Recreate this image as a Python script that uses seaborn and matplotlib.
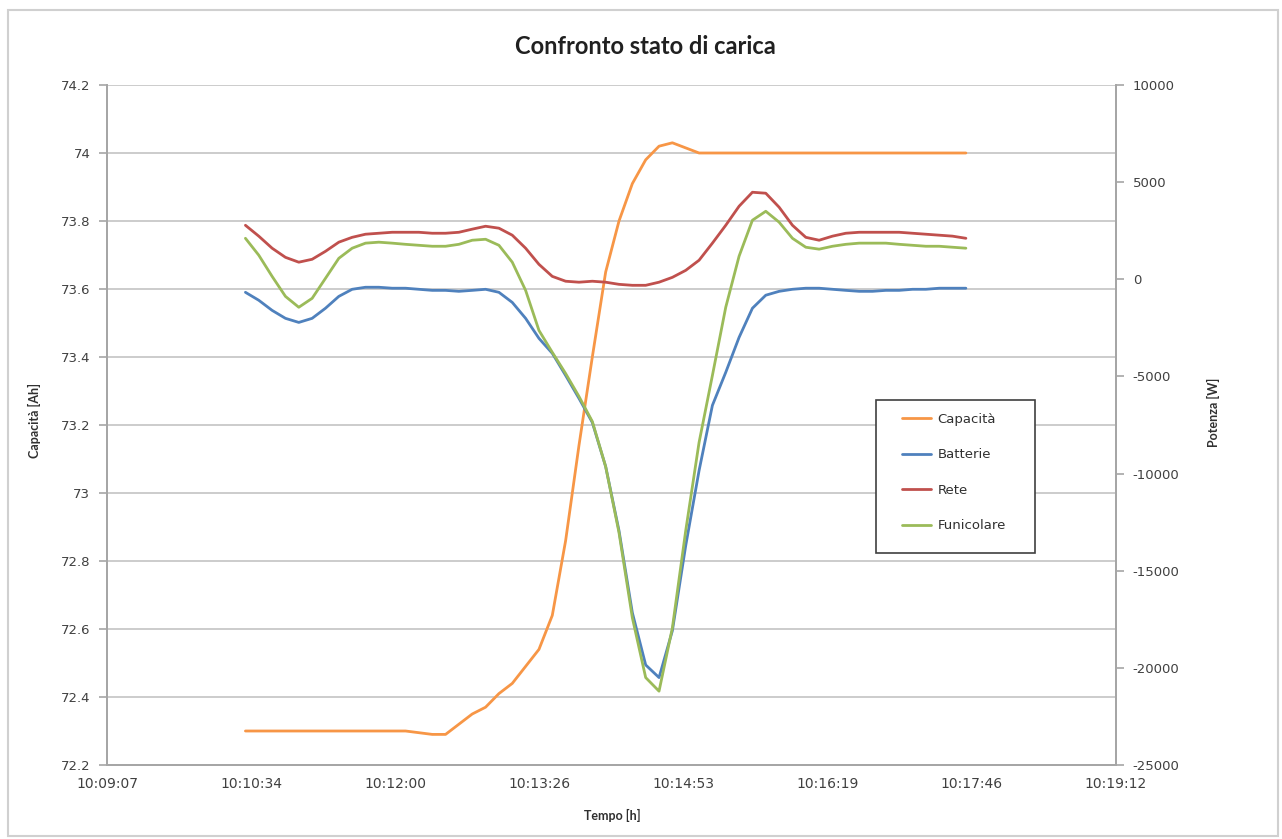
import numpy as np
import pandas as pd
import matplotlib.pyplot as plt
import matplotlib.dates as mdates
from matplotlib.lines import Line2D
from matplotlib.patches import Rectangle
import seaborn as sns

# dati (campioni ogni 8 s)
tempo = ['10:10:30', '10:10:38', '10:10:46', '10:10:54', '10:11:02', '10:11:10', '10:11:18',
         '10:11:26', '10:11:34', '10:11:42', '10:11:50', '10:11:58', '10:12:06', '10:12:14',
         '10:12:22', '10:12:30', '10:12:38', '10:12:46', '10:12:54', '10:13:02', '10:13:10',
         '10:13:18', '10:13:26', '10:13:34', '10:13:42', '10:13:50', '10:13:58', '10:14:06',
         '10:14:14', '10:14:22', '10:14:30', '10:14:38', '10:14:46', '10:14:54', '10:15:02',
         '10:15:10', '10:15:18', '10:15:26', '10:15:34', '10:15:42', '10:15:50', '10:15:58',
         '10:16:06', '10:16:14', '10:16:22', '10:16:30', '10:16:38', '10:16:46', '10:16:54',
         '10:17:02', '10:17:10', '10:17:18', '10:17:26', '10:17:34', '10:17:42']
capacita = [72.30, 72.30, 72.30, 72.30, 72.30, 72.30, 72.30, 72.30, 72.30, 72.30, 72.30,
            72.30, 72.30, 72.295, 72.29, 72.29, 72.32, 72.35, 72.37, 72.41, 72.44, 72.49,
            72.54, 72.64, 72.86, 73.14, 73.40, 73.65, 73.80, 73.91, 73.98, 74.02, 74.03,
            74.015, 74.00, 74.00, 74.00, 74.00, 74.00, 74.00, 74.00, 74.00, 74.00, 74.00,
            74.00, 74.00, 74.00, 74.00, 74.00, 74.00, 74.00, 74.00, 74.00, 74.00, 74.00]
batterie = [-670, -1080, -1600, -2010, -2220, -2010, -1490, -880, -515, -410, -410, -460,
            -460, -515, -570, -570, -620, -570, -515, -670, -1190, -2010, -3040, -3810,
            -4950, -6130, -7370, -9640, -12940, -17160, -19850, -20500, -18090, -13710,
            -9850, -6490, -4790, -2990, -1490, -820, -620, -515, -460, -460, -515, -570,
            -620, -620, -570, -570, -515, -515, -460, -460, -460]
rete = [2780, 2220, 1600, 1130, 880, 1030, 1440, 1910, 2160, 2320, 2370, 2420, 2420, 2420,
        2370, 2370, 2420, 2580, 2730, 2630, 2270, 1600, 770, 150, -100, -150, -100, -150,
        -260, -310, -310, -150, 100, 460, 980, 1860, 2780, 3760, 4480, 4430, 3710, 2780,
        2160, 2010, 2220, 2370, 2420, 2420, 2420, 2420, 2370, 2320, 2270, 2220, 2110]
funicolare = [2110, 1240, 150, -880, -1440, -980, 50, 1080, 1600, 1860, 1910, 1860, 1800,
              1750, 1700, 1700, 1800, 2010, 2060, 1750, 880, -570, -2630, -3760, -4850,
              -6030, -7320, -9640, -13040, -17420, -20500, -21200, -17940, -12940, -8400,
              -4950, -1440, 1190, 3040, 3500, 2940, 2110, 1650, 1550, 1700, 1800, 1860,
              1860, 1860, 1800, 1750, 1700, 1700, 1650, 1600]

tick_labels = ['10:09:07', '10:10:34', '10:12:00', '10:13:26', '10:14:53', '10:16:19',
               '10:17:46', '10:19:12']
cap_ticks = [72.2, 72.4, 72.6, 72.8, 73.0, 73.2, 73.4, 73.6, 73.8, 74.0, 74.2]
pot_ticks = [-25000, -20000, -15000, -10000, -5000, 0, 5000, 10000]

colori = {'Capacità': '#F79646', 'Batterie': '#4F81BD', 'Rete': '#C0504D', 'Funicolare': '#9BBB59'}

sns.set_style('white')
plt.rcParams['font.family'] = ['DejaVu Sans']

t = pd.to_datetime(['2000-01-01 ' + s for s in tempo])
df_cap = pd.DataFrame({'Tempo': t, 'Capacità': capacita})
df_pot = pd.DataFrame({'Tempo': t, 'Batterie': batterie, 'Rete': rete, 'Funicolare': funicolare})
df_pot = df_pot.melt(id_vars='Tempo', var_name='Serie', value_name='Potenza')

W, H = 1282, 839
fig = plt.figure(figsize=(W / 100, H / 100), dpi=100)
fig.patches.append(Rectangle((8 / W, 3 / H), 1270 / W, 826 / H, transform=fig.transFigure,
                             fill=False, edgecolor='#D0D0D0', lw=1.5))
ax = fig.add_axes([107 / W, 1 - 765 / H, 1009 / W, 680 / H])
ax2 = ax.twinx()

sns.lineplot(data=df_cap, x='Tempo', y='Capacità', color=colori['Capacità'], lw=2.0, ax=ax, legend=False)
sns.lineplot(data=df_pot, x='Tempo', y='Potenza', hue='Serie', palette=colori, lw=2.0, ax=ax2, legend=False)

x0 = mdates.date2num(pd.Timestamp('2000-01-01 10:09:07'))
x1 = mdates.date2num(pd.Timestamp('2000-01-01 10:19:12'))
ax.set_xlim(x0, x1)
ax.set_xticks(np.linspace(x0, x1, len(tick_labels)))
ax.set_xticklabels(tick_labels)

ax.set_ylim(72.2, 74.2)
ax.set_yticks(cap_ticks)
ax.set_yticklabels([f'{v:g}' for v in cap_ticks])
ax2.set_ylim(-25000, 10000)
ax2.set_yticks(pot_ticks)
ax2.set_yticklabels([str(v) for v in pot_ticks])

ax.yaxis.grid(True, color='#C8C8C8', lw=1.3)
ax.set_axisbelow(True)
for a in (ax, ax2):
    a.set_xlabel('')
    a.set_ylabel('')
    for s in ['left', 'right', 'bottom']:
        a.spines[s].set_color('#A6A6A6')
        a.spines[s].set_linewidth(1.3)
    a.spines['top'].set_visible(False)
    a.tick_params(direction='out', length=6, width=1.2, color='#A6A6A6', labelsize=9.5,
                  labelcolor='#404040', pad=6)
ax.tick_params(axis='x', labelsize=10, pad=3)

fig.text(645 / W, 1 - 47 / H, 'Confronto stato di carica', ha='center', va='center',
         fontsize=17, fontweight='bold', color='#202020', family=['Lato', 'DejaVu Sans'])
fig.text(34 / W, 1 - 420 / H, 'Capacità [Ah]', rotation=90, ha='center', va='center',
         fontsize=9, fontweight='bold', color='#303030', family=['Lato', 'DejaVu Sans'])
fig.text(1213 / W, 1 - 412 / H, 'Potenza [W]', rotation=90, ha='center', va='center',
         fontsize=9, fontweight='bold', color='#303030', family=['Lato', 'DejaVu Sans'])
fig.text(612 / W, 1 - 815 / H, 'Tempo [h]', ha='center', va='center',
         fontsize=9, fontweight='bold', color='#303030', family=['Lato', 'DejaVu Sans'])

# riquadro legenda
ax2.add_patch(Rectangle((876 / W, 1 - 553 / H), 159 / W, 153 / H, transform=fig.transFigure,
                        facecolor='white', edgecolor='#404040', lw=1.2, zorder=4))
handles = [Line2D([0], [0], color=colori[k], lw=2.0) for k in colori]
leg = ax2.legend(handles, list(colori), loc='upper left', bbox_to_anchor=(902 / W, 1 - 413 / H),
                 bbox_transform=fig.transFigure, borderaxespad=0, borderpad=0, frameon=False,
                 labelspacing=1.7, handlelength=2.2, handletextpad=0.5, fontsize=9.5)
leg.set_zorder(5)
for txt in leg.get_texts():
    txt.set_color('#303030')

plt.savefig('out.png', dpi=100)
